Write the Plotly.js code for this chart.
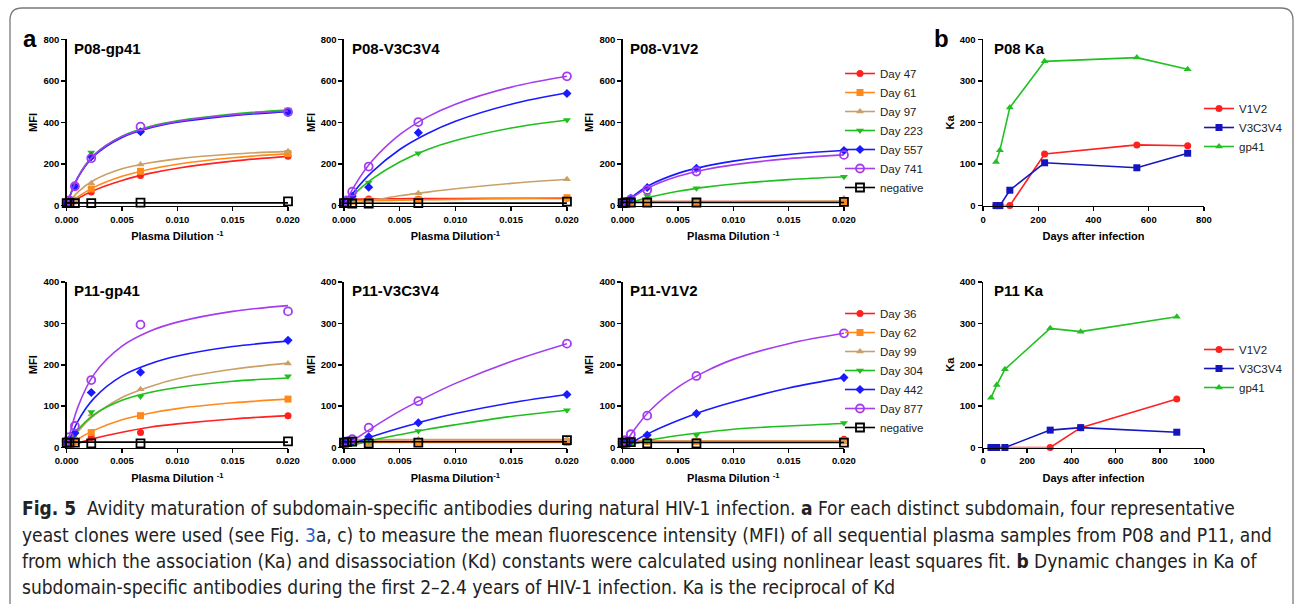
<!DOCTYPE html>
<html><head><meta charset="utf-8">
<script src="https://cdn.plot.ly/plotly-3.0.1.min.js"></script>
<style>html,body{margin:0;padding:0;background:#fff}#chart{width:1295px;height:604px}</style>
</head><body><div id="chart"></div>
<script>
// ---------- data ----------
const dilutionPoints = [0, 0.000247, 0.000741, 0.00222, 0.00667, 0.02];
const fitSamples = [0, 0.001, 0.0025, 0.005, 0.0075, 0.01, 0.015, 0.02];
const p08Names = ['Day 47', 'Day 61', 'Day 97', 'Day 223', 'Day 557', 'Day 741', 'negative'];
const p11Names = ['Day 36', 'Day 62', 'Day 99', 'Day 304', 'Day 442', 'Day 877', 'negative'];

const p08_gp41_pts = [
  [12, 15, 22, 65, 145, 238],
  [12, 14, 25, 80, 165, 250],
  [12, 16, 30, 107, 198, 262],
  [12, 25, 95, 255, 360, 462],
  [12, 25, 92, 235, 355, 450],
  [12, 25, 93, 228, 380, 450],
  [12, 12, 12, 12, 14, 20]];
const p08_gp41_fit = [
  [0, 34, 74, 121, 155, 180, 214, 237],
  [0, 42, 89, 141, 175, 199, 230, 250],
  [0, 65, 123, 177, 206, 225, 248, 261],
  [0, 136, 245, 334, 380, 408, 441, 460],
  [0, 133, 240, 328, 373, 401, 433, 452],
  [0, 136, 244, 332, 377, 405, 437, 455],
  [13, 13, 13, 13, 13, 13, 13, 13]];

const p08_v3_pts = [
  [15, 25, 30, 32, 30, 35],
  [12, 15, 22, 25, 28, 38],
  [10, 12, 15, 20, 59, 127],
  [10, 20, 40, 111, 252, 412],
  [12, 20, 45, 88, 351, 539],
  [15, 25, 67, 188, 402, 622],
  [12, 12, 10, 10, 12, 19]];
const p08_v3_fit = [
  [30, 31, 32, 33, 34, 34, 35, 35],
  [22, 23, 24, 26, 28, 30, 34, 38],
  [0, 11, 25, 47, 65, 81, 107, 127],
  [0, 59, 127, 210, 270, 313, 373, 412],
  [0, 73, 161, 270, 347, 406, 488, 543],
  [0, 100, 213, 341, 427, 488, 570, 622],
  [11, 11, 11, 11, 11, 12, 12, 12]];

const p08_v1_pts = [
  [20, 18, 20, 20, 20, 22],
  [15, 16, 18, 18, 18, 20],
  [15, 18, 20, 20, 22, 35],
  [10, 15, 25, 46, 83, 139],
  [12, 20, 35, 87, 180, 265],
  [12, 18, 30, 75, 164, 244],
  [12, 14, 15, 15, 15, 18]];
const p08_v1_fit = [
  [20, 20, 20, 20, 20, 20, 20, 20],
  [18, 18, 18, 18, 18, 18, 18, 18],
  [18, 18, 19, 19, 20, 20, 21, 22],
  [0, 19, 41, 69, 89, 104, 125, 139],
  [0, 48, 100, 155, 190, 214, 246, 265],
  [0, 43, 90, 141, 174, 196, 226, 244],
  [15, 15, 15, 15, 15, 15, 15, 15]];

const p11_gp41_pts = [
  [10, 12, 14, 24, 36, 77],
  [10, 12, 15, 36, 77, 117],
  [10, 15, 25, 80, 141, 203],
  [10, 15, 30, 86, 123, 172],
  [12, 20, 35, 133, 182, 259],
  [15, 25, 52, 163, 297, 329],
  [12, 12, 12, 10, 10, 15]];
const p11_gp41_fit = [
  [0, 10, 22, 37, 49, 57, 69, 77],
  [0, 20, 42, 67, 83, 94, 108, 117],
  [0, 38, 78, 121, 147, 166, 189, 204],
  [0, 42, 80, 114, 133, 145, 160, 168],
  [0, 63, 120, 173, 202, 221, 244, 257],
  [0, 97, 178, 245, 281, 303, 329, 343],
  [13, 13, 13, 13, 13, 13, 13, 13]];

const p11_v3_pts = [
  [12, 14, 15, 15, 15, 16],
  [10, 12, 12, 12, 13, 12],
  [12, 15, 18, 18, 20, 20],
  [10, 12, 13, 15, 40, 90],
  [12, 14, 15, 26, 60, 128],
  [12, 15, 20, 48, 112, 251],
  [12, 13, 14, 10, 12, 18]];
const p11_v3_fit = [
  [15, 15, 15, 15, 15, 15, 15, 15],
  [12, 12, 12, 12, 12, 12, 12, 12],
  [19, 19, 19, 19, 19, 19, 19, 19],
  [0, 7, 17, 31, 44, 55, 75, 90],
  [0, 11, 26, 47, 66, 82, 108, 128],
  [0, 20, 47, 88, 123, 155, 208, 251],
  [14, 14, 14, 14, 14, 14, 14, 14]];

const p11_v1_pts = [
  [15, 15, 15, 15, 15, 20],
  [12, 14, 15, 15, 15, 16],
  [12, 14, 15, 15, 15, 16],
  [10, 12, 14, 15, 30, 59],
  [12, 14, 16, 30, 82, 169],
  [12, 18, 32, 77, 173, 276],
  [12, 12, 13, 10, 10, 12]];
const p11_v1_fit = [
  [15, 15, 15, 15, 15, 15, 15, 15],
  [15, 15, 15, 15, 15, 15, 15, 15],
  [15, 15, 15, 15, 15, 15, 15, 15],
  [0, 8, 18, 29, 37, 44, 52, 58],
  [0, 15, 36, 65, 90, 110, 144, 169],
  [0, 41, 90, 146, 184, 213, 251, 276],
  [12, 12, 12, 12, 12, 12, 12, 12]];

const kaNames = ['V1V2', 'V3C3V4', 'gp41'];
const p08_ka_days = [47, 61, 97, 223, 557, 741];
const p08_ka_v1v2 = [0, 0, 0, 124, 146, 144];
const p08_ka_v3c3v4 = [0, 0, 37, 103, 91, 126];
const p08_ka_gp41 = [105, 133, 236, 347, 356, 328];
const p11_ka_days = [36, 62, 99, 304, 442, 877];
const p11_ka_v1v2 = [0, 0, 0, 0, 48, 117];
const p11_ka_v3c3v4 = [0, 0, 0, 42, 48, 37];
const p11_ka_gp41 = [120, 151, 189, 288, 280, 316];

const panelTitles = ['P08-gp41', 'P08-V3C3V4', 'P08-V1V2', 'P08 Ka', 'P11-gp41', 'P11-V3C3V4', 'P11-V1V2', 'P11 Ka'];

// ---------- styles ----------
const dayColors = ['#ff2020', '#ff8a1a', '#c9a066', '#20bf20', '#1a1aff', '#a43cf0', '#000000'];
const daySymbols = ['circle', 'square', 'triangle-up', 'triangle-down', 'diamond', 'circle-open', 'square-open'];
const kaColors = ['#ff2020', '#1515c0', '#22c022'];
const kaSymbols = ['circle', 'square', 'triangle-up'];
const FONT = 'Arial, "Liberation Sans", sans-serif';

const colDom = [[0.0515, 0.2224], [0.2656, 0.4378], [0.4808, 0.6517], [0.7591, 0.9297]];
const rowDom = [[0.6596, 0.9349], [0.2591, 0.5331]];

function ax(i) { return i === 1 ? '' : String(i); }
function gapped(arr) { const o = []; arr.forEach(v => { o.push(v, null); }); return o; }

const traces = [];
function mfiPanel(i, names, pts, fit, legendId) {
  for (let k = 0; k < names.length; k++) {
    const open = daySymbols[k].endsWith('open');
    traces.push({
      type: 'scatter', mode: 'lines', x: fitSamples, y: fit[k],
      xaxis: 'x' + ax(i), yaxis: 'y' + ax(i), showlegend: false, hoverinfo: 'skip',
      line: {color: dayColors[k], width: 1.6, shape: 'spline', smoothing: 1}
    });
    traces.push({
      type: 'scatter', mode: 'lines+markers', name: names[k],
      x: gapped(dilutionPoints), y: gapped(pts[k]), connectgaps: false,
      xaxis: 'x' + ax(i), yaxis: 'y' + ax(i), cliponaxis: false,
      showlegend: !!legendId, legend: legendId || 'legend',
      line: {color: dayColors[k], width: 1.6},
      marker: {color: dayColors[k], symbol: daySymbols[k], size: open ? 8 : 7,
               line: {color: dayColors[k], width: open ? 1.8 : 0}}
    });
  }
}
function kaPanel(i, days, series, legendId) {
  series.forEach((ys, k) => {
    traces.push({
      type: 'scatter', mode: 'lines+markers', name: kaNames[k], x: days, y: ys,
      xaxis: 'x' + ax(i), yaxis: 'y' + ax(i), cliponaxis: false, legend: legendId,
      line: {color: kaColors[k], width: 1.6},
      marker: {color: kaColors[k], symbol: kaSymbols[k], size: 7}
    });
  });
}

mfiPanel(1, p08Names, p08_gp41_pts, p08_gp41_fit, null);
mfiPanel(2, p08Names, p08_v3_pts, p08_v3_fit, null);
mfiPanel(3, p08Names, p08_v1_pts, p08_v1_fit, 'legend');
kaPanel(4, p08_ka_days, [p08_ka_v1v2, p08_ka_v3c3v4, p08_ka_gp41], 'legend3');
mfiPanel(5, p11Names, p11_gp41_pts, p11_gp41_fit, null);
mfiPanel(6, p11Names, p11_v3_pts, p11_v3_fit, null);
mfiPanel(7, p11Names, p11_v1_pts, p11_v1_fit, 'legend2');
kaPanel(8, p11_ka_days, [p11_ka_v1v2, p11_ka_v3c3v4, p11_ka_gp41], 'legend4');

// ---------- layout ----------
const layout = {
  width: 1295, height: 604, margin: {l: 0, r: 0, t: 0, b: 0},
  paper_bgcolor: '#fff', plot_bgcolor: 'rgba(0,0,0,0)',
  font: {family: FONT, color: '#000'},
  annotations: [], shapes: []
};
const axBase = {
  showline: true, linecolor: '#000', linewidth: 1.5, ticks: 'outside', ticklen: 4,
  tickwidth: 1.5, tickcolor: '#000', showgrid: false, zeroline: false, fixedrange: true,
  tickfont: {family: FONT, size: 9.5, weight: 700, color: '#000'}
};
const titleFont = {family: FONT, size: 11, weight: 700, color: '#000'};
const xTitles = ['Plasma Dilution <sup>-1</sup>', 'Plasma Dilution<sup>-1</sup>', 'Plasma Dilution <sup>-1</sup>', 'Days after infection'];

for (let i = 1; i <= 8; i++) {
  const c = (i - 1) % 4, r = i > 4 ? 1 : 0;
  const isKa = c === 3;
  const xa = Object.assign({}, axBase, {
    domain: colDom[c], anchor: 'y' + ax(i),
    title: {text: xTitles[c], font: titleFont, standoff: 9}
  });
  if (isKa) {
    xa.range = [0, r === 0 ? 800 : 1000]; xa.tickvals = r === 0 ? [0, 200, 400, 600, 800] : [0, 200, 400, 600, 800, 1000];
  } else {
    xa.range = [0, 0.02]; xa.tickvals = [0, 0.005, 0.01, 0.015, 0.02]; xa.tickformat = '.3f';
  }
  const ya = Object.assign({}, axBase, {
    domain: rowDom[r], anchor: 'x' + ax(i),
    title: {text: isKa ? 'Ka' : 'MFI', font: titleFont, standoff: 3}
  });
  if (isKa || r === 1) { ya.range = [0, 400]; ya.tickvals = [0, 100, 200, 300, 400]; }
  else { ya.range = [0, 800]; ya.tickvals = [0, 200, 400, 600, 800]; }
  layout['xaxis' + ax(i)] = xa;
  layout['yaxis' + ax(i)] = ya;
  layout.annotations.push({
    xref: 'x' + ax(i) + ' domain', yref: 'y' + ax(i) + ' domain', x: isKa ? 0.04 : 0.025, y: 1.01,
    xanchor: 'left', yanchor: 'top', showarrow: false, text: panelTitles[i - 1],
    font: {family: FONT, size: 15, weight: 700, color: '#000'}
  });
}

const legBase = {xanchor: 'left', yanchor: 'top', bgcolor: 'rgba(0,0,0,0)', borderwidth: 0,
  font: {family: FONT, size: 11.5, color: '#222'}, tracegroupgap: 0, itemwidth: 30};
layout.legend = Object.assign({}, legBase, {x: 840 / 1295, y: 1 - 59 / 604});
layout.legend2 = Object.assign({}, legBase, {x: 840 / 1295, y: 1 - 299 / 604});
layout.legend3 = Object.assign({}, legBase, {x: 1199 / 1295, y: 1 - 94 / 604});
layout.legend4 = Object.assign({}, legBase, {x: 1199 / 1295, y: 1 - 335 / 604});

// panel letters
layout.annotations.push({xref: 'paper', yref: 'paper', x: 30 / 1295, y: 1 - 39 / 604, xanchor: 'center', yanchor: 'middle',
  showarrow: false, text: '<b>a</b>', font: {family: FONT, size: 24, color: '#000'}});
layout.annotations.push({xref: 'paper', yref: 'paper', x: 941 / 1295, y: 1 - 39 / 604, xanchor: 'center', yanchor: 'middle',
  showarrow: false, text: '<b>b</b>', font: {family: FONT, size: 24, color: '#000'}});

// caption
const captionLines = [
  '<b>Fig. 5</b>  Avidity maturation of subdomain-specific antibodies during natural HIV-1 infection. <b>a</b> For each distinct subdomain, four representative',
  'yeast clones were used (see Fig. <span style="color:#2a62c9">3</span>a, c) to measure the mean fluorescence intensity (MFI) of all sequential plasma samples from P08 and P11, and',
  'from which the association (Ka) and disassociation (Kd) constants were calculated using nonlinear least squares fit. <b>b</b> Dynamic changes in Ka of',
  'subdomain-specific antibodies during the first 2–2.4 years of HIV-1 infection. Ka is the reciprocal of Kd'
];
const captionY = [508, 535, 561, 587];
captionLines.forEach((t, k) => {
  layout.annotations.push({xref: 'paper', yref: 'paper', x: 20 / 1295, y: 1 - captionY[k] / 604,
    xanchor: 'left', yanchor: 'middle', showarrow: false, text: t, align: 'left',
    font: {family: '"Liberation Sans Narrow", "DejaVu Sans Condensed", "Arial Narrow", sans-serif', size: 19, color: '#222'}});
});

// frame
const fx = v => v / 1295, fy = v => 1 - v / 604;
layout.shapes.push({type: 'path', xref: 'paper', yref: 'paper', layer: 'below',
  path: `M ${fx(10)} ${fy(604)} L ${fx(10)} ${fy(20)} Q ${fx(10)} ${fy(8)} ${fx(22)} ${fy(8)} L ${fx(1281)} ${fy(8)} Q ${fx(1293)} ${fy(8)} ${fx(1293)} ${fy(20)} L ${fx(1293)} ${fy(604)}`,
  line: {color: '#7a7a7a', width: 1.3}});

Plotly.newPlot('chart', traces, layout, {displayModeBar: false, staticPlot: true});
</script></body></html>
